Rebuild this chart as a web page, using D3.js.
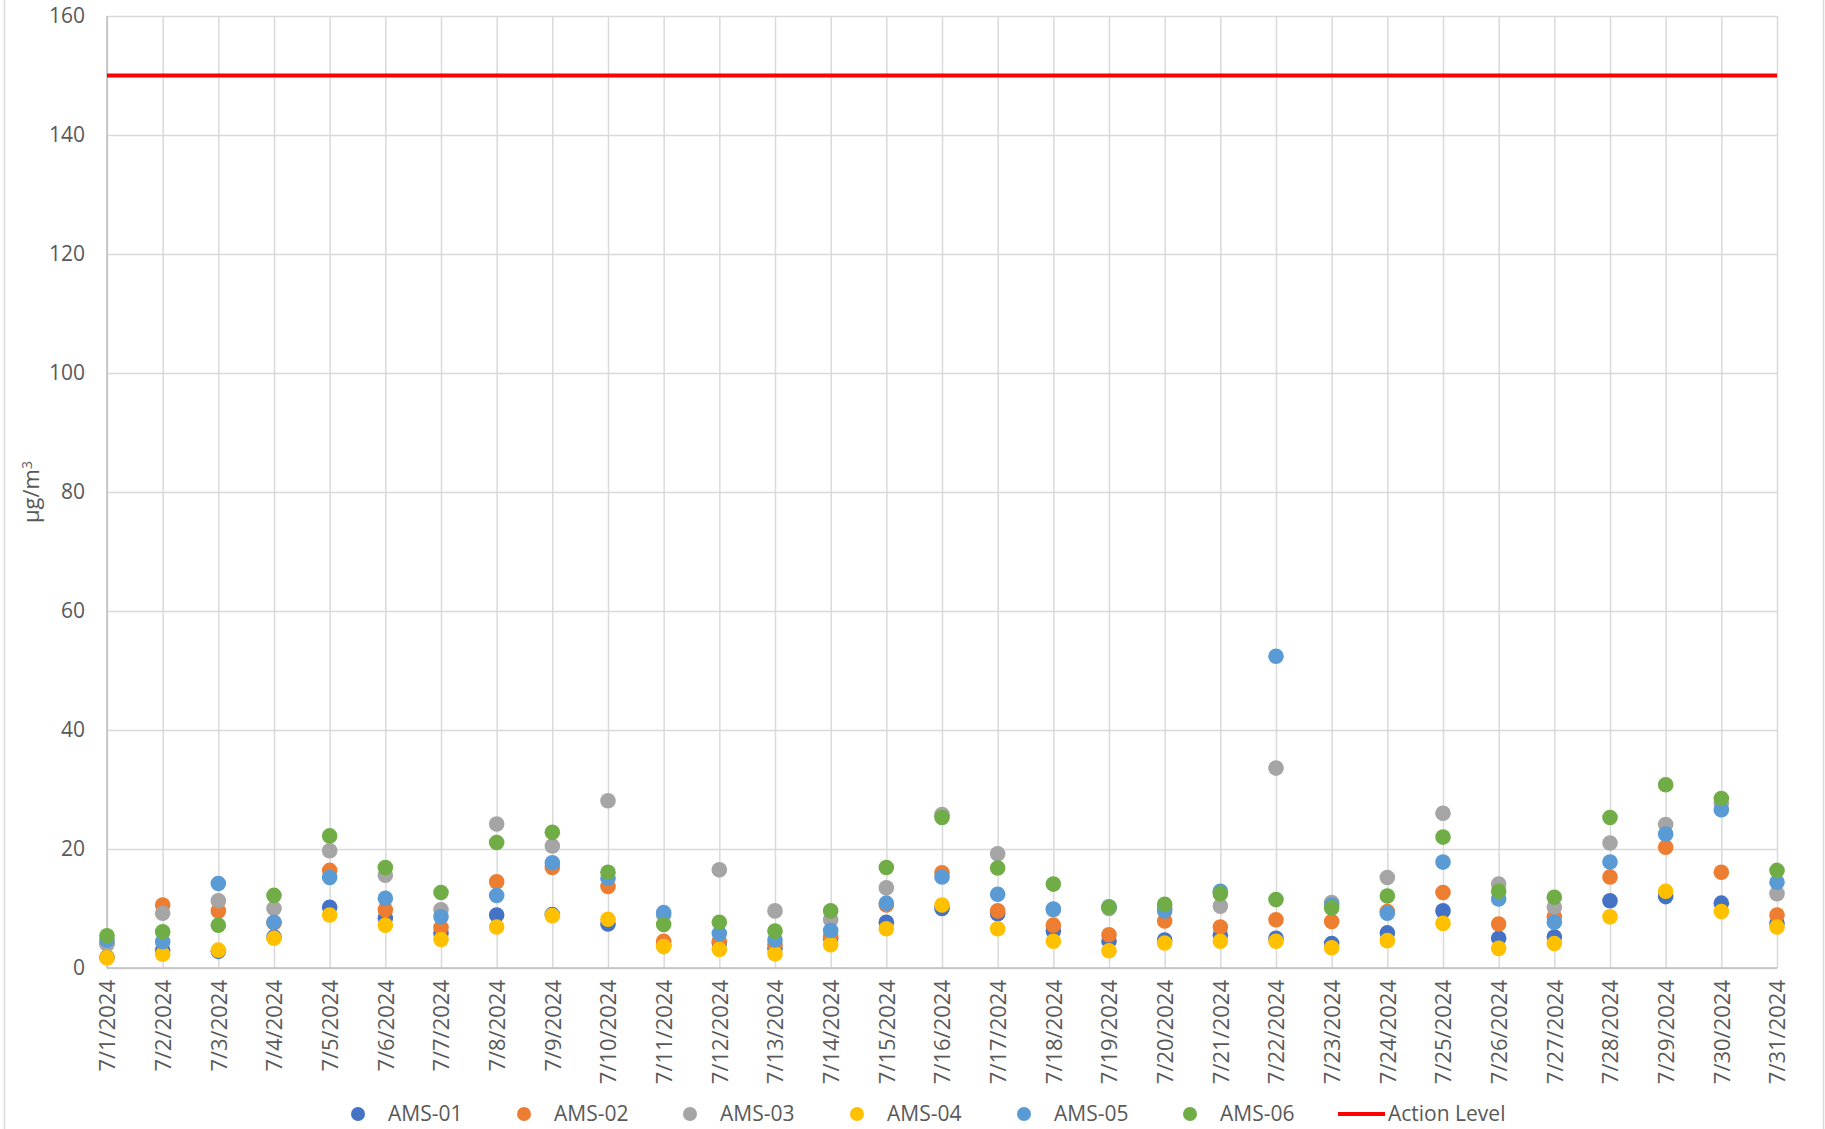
<!DOCTYPE html>
<html>
<head>
<meta charset="utf-8">
<script src="https://cdn.jsdelivr.net/npm/d3@7"></script>
<style>
  body { margin: 0; background: #fff; }
  text { font-family: "Open Sans", "Noto Sans", sans-serif; fill: #595959; }
</style>
</head>
<body>
<svg id="chart" width="1825" height="1129"></svg>
<script>
// dates on the x axis
var dates = ["7/1/2024","7/2/2024","7/3/2024","7/4/2024","7/5/2024","7/6/2024","7/7/2024","7/8/2024",
  "7/9/2024","7/10/2024","7/11/2024","7/12/2024","7/13/2024","7/14/2024","7/15/2024","7/16/2024",
  "7/17/2024","7/18/2024","7/19/2024","7/20/2024","7/21/2024","7/22/2024","7/23/2024","7/24/2024",
  "7/25/2024","7/26/2024","7/27/2024","7/28/2024","7/29/2024","7/30/2024","7/31/2024"];

var ams01 = [1.8,3.0,2.8,5.2,10.2,8.4,5.9,8.9,9.0,7.4,3.8,4.2,3.3,5.0,7.7,10.0,9.1,6.2,4.5,4.7,5.5,5.0,4.1,5.9,9.6,5.0,5.2,11.3,12.0,10.9,7.5];
var ams02 = [4.2,10.6,9.6,7.6,16.4,9.8,6.8,14.5,16.9,13.7,4.5,4.5,4.0,5.3,10.6,16.0,9.6,7.2,5.6,7.9,6.9,8.1,7.8,9.5,12.7,7.4,8.6,15.3,20.3,16.1,8.9];
var ams03 = [4.0,9.2,11.3,10.0,19.7,15.6,9.8,24.2,20.5,28.1,8.9,16.5,9.6,8.1,13.5,25.8,19.2,9.8,10.0,10.0,10.4,33.6,11.0,15.2,26.0,14.1,10.2,21.0,24.1,27.7,12.5];
var ams04 = [1.7,2.3,3.0,5.0,8.9,7.2,4.8,6.9,8.8,8.2,3.6,3.1,2.4,3.9,6.6,10.6,6.6,4.5,2.9,4.2,4.5,4.5,3.4,4.6,7.5,3.3,4.1,8.6,12.9,9.5,6.9];
var ams05 = [4.7,4.4,14.2,7.7,15.2,11.7,8.6,12.2,17.7,15.1,9.3,5.8,4.7,6.3,10.9,15.3,12.4,9.9,10.3,9.6,12.9,52.4,10.6,9.2,17.8,11.6,7.7,17.8,22.5,26.6,14.4];
var ams06 = [5.4,6.1,7.2,12.2,22.2,16.9,12.7,21.1,22.8,16.1,7.3,7.7,6.2,9.6,16.9,25.3,16.8,14.1,10.2,10.7,12.5,11.5,10.1,12.1,22.0,12.9,11.9,25.3,30.8,28.5,16.4];

var seriesNames = ["AMS-01","AMS-02","AMS-03","AMS-04","AMS-05","AMS-06"];
var seriesValues = [ams01, ams02, ams03, ams04, ams05, ams06];
var seriesColors = ["#4472C4","#ED7D31","#A5A5A5","#FFC000","#5B9BD5","#70AD47"];
var actionLevel = 150;
var yTicks = [0,20,40,60,80,100,120,140,160];

var plotL = 107, plotR = 1777, plotT = 16, plotB = 968;
var svg = d3.select("#chart");

// outer chart border
svg.append("rect")
  .attr("x", 4.5).attr("y", -5)
  .attr("width", 1819).attr("height", 1145)
  .attr("fill", "none").attr("stroke", "#D9D9D9").attr("stroke-width", 1.5);

var xScale = d3.scalePoint().domain(dates).range([plotL, plotR]);
var yScale = d3.scaleLinear().domain([0, 160]).range([plotB, plotT]);

// horizontal gridlines + y labels
var yAxis = d3.axisLeft(yScale).tickValues(yTicks).tickSize(-(plotR - plotL)).tickPadding(22);
var gy = svg.append("g").attr("transform", "translate(" + plotL + ",0)").call(yAxis);
gy.select(".domain").remove();
gy.selectAll("line").attr("stroke", "#D9D9D9").attr("stroke-width", 1.5);
gy.selectAll("text").style("font-size", "21px").attr("fill", "#595959");

// vertical gridlines + date labels
var xAxis = d3.axisBottom(xScale).tickSize(-(plotB - plotT)).tickPadding(0);
var gx = svg.append("g").attr("transform", "translate(0," + plotB + ")").call(xAxis);
gx.select(".domain").remove();
gx.selectAll("line").attr("stroke", "#D9D9D9").attr("stroke-width", 1.5);
gx.selectAll("text")
  .style("font-size", "22px").attr("fill", "#595959")
  .attr("transform", "rotate(-90)")
  .attr("text-anchor", "end")
  .attr("x", -12).attr("y", 0).attr("dy", "0.36em");

// axis lines
svg.append("line").attr("x1", plotL).attr("x2", plotL).attr("y1", plotT).attr("y2", plotB)
  .attr("stroke", "#BFBFBF").attr("stroke-width", 1.5);
svg.append("line").attr("x1", plotL).attr("x2", plotR).attr("y1", plotB).attr("y2", plotB)
  .attr("stroke", "#BFBFBF").attr("stroke-width", 1.5);

// action level
svg.append("line")
  .attr("x1", xScale(dates[0])).attr("x2", xScale(dates[dates.length - 1]))
  .attr("y1", yScale(actionLevel)).attr("y2", yScale(actionLevel))
  .attr("stroke", "#FF0000").attr("stroke-width", 4);

// points
seriesValues.forEach(function(vals, s) {
  svg.append("g").selectAll("circle")
    .data(vals)
    .enter()
    .append("circle")
    .attr("cx", function(d, i) { return xScale(dates[i]); })
    .attr("cy", function(d) { return yScale(d); })
    .attr("r", 7.8)
    .attr("fill", seriesColors[s]);
});

// y axis title
var yt = svg.append("text")
  .attr("transform", "translate(31," + ((plotT + plotB) / 2) + ") rotate(-90)")
  .attr("text-anchor", "middle")
  .attr("dy", "0.35em")
  .style("font-size", "22px");
yt.append("tspan").text("µg/m");
yt.append("tspan").attr("dy", "-0.45em").style("font-size", "14px").text("3");

// legend
var legY = 1114;
var legX = [358, 524, 690, 857, 1024, 1190];
seriesNames.forEach(function(name, s) {
  svg.append("circle").attr("cx", legX[s]).attr("cy", legY).attr("r", 7).attr("fill", seriesColors[s]);
  svg.append("text").attr("x", legX[s] + 30).attr("y", legY).attr("dy", "0.35em")
    .style("font-size", "21px").text(name);
});
svg.append("line").attr("x1", 1338).attr("x2", 1385).attr("y1", legY).attr("y2", legY)
  .attr("stroke", "#FF0000").attr("stroke-width", 4);
svg.append("text").attr("x", 1388).attr("y", legY).attr("dy", "0.35em")
  .style("font-size", "21px").text("Action Level");
</script>
</body>
</html>
